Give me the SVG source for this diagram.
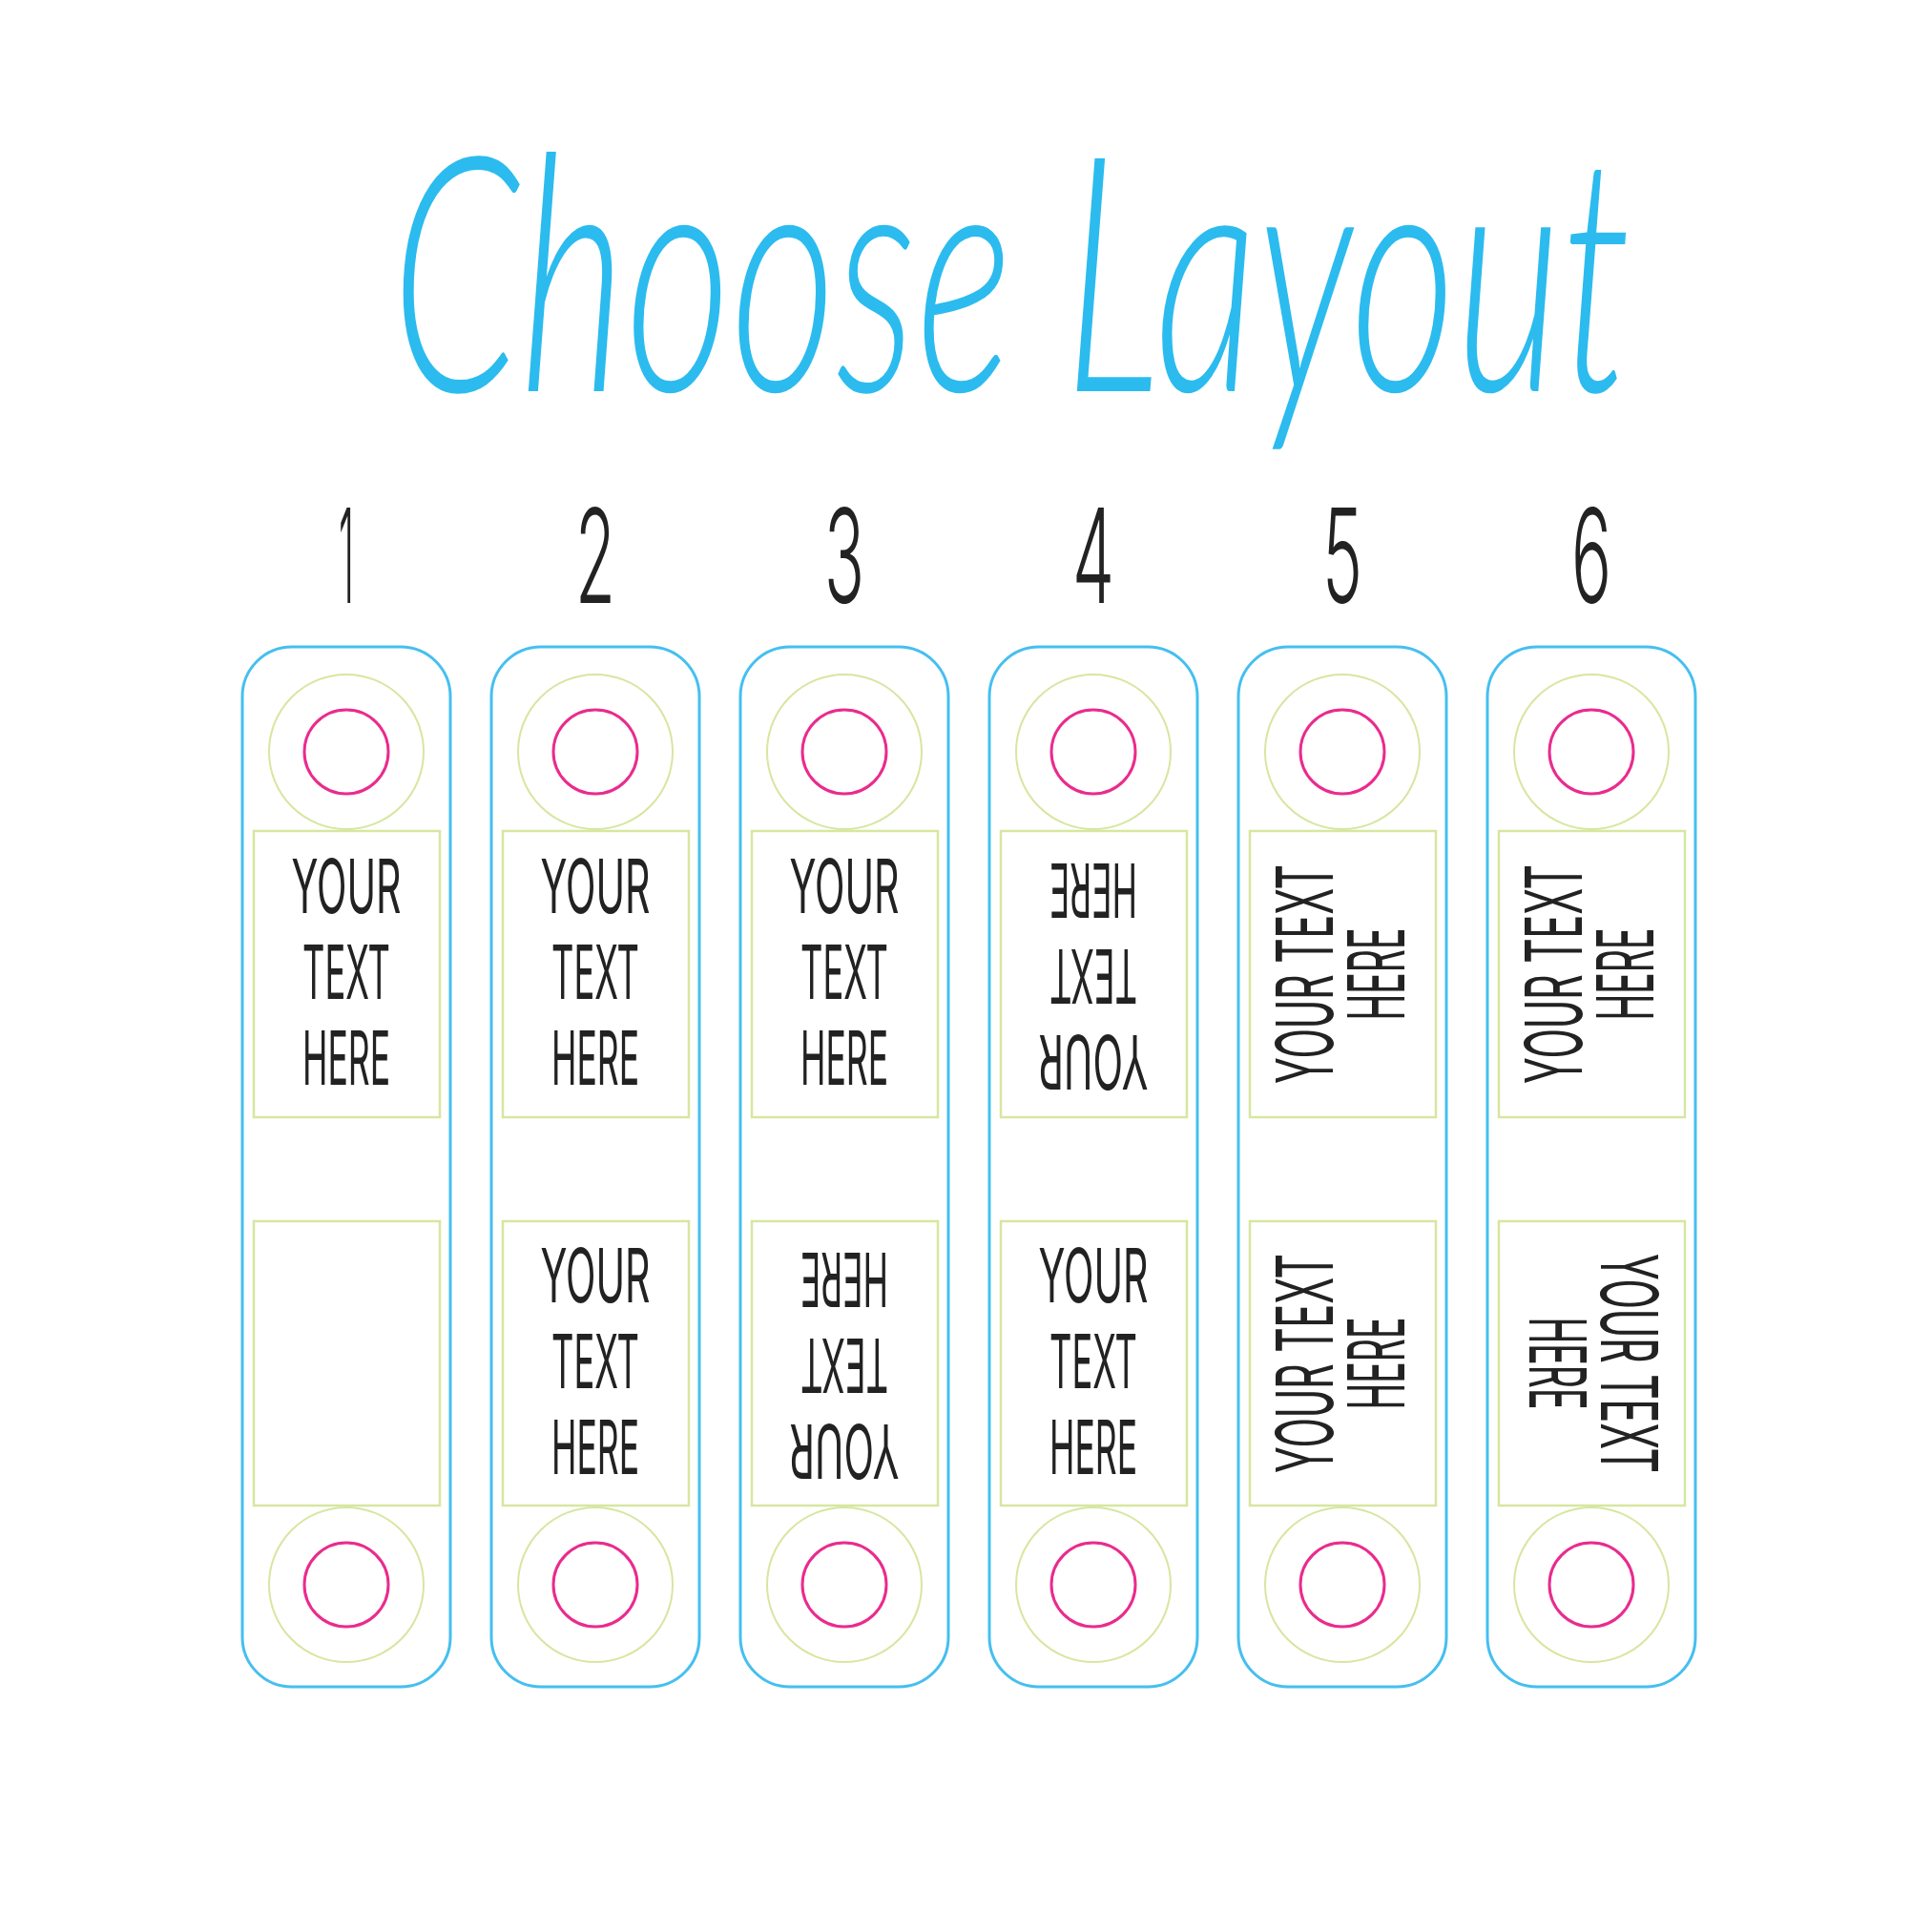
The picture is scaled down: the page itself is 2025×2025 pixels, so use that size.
<svg xmlns="http://www.w3.org/2000/svg" xmlns:xlink="http://www.w3.org/1999/xlink" width="2025" height="2025" viewBox="0 0 2025 2025">
<style>
.card{fill:#fff;stroke:#45bff0;stroke-width:3}
.ring{fill:none;stroke:#d7e6a0;stroke-width:2}
.hole{fill:none;stroke:#ea2b8d;stroke-width:3}
.box{fill:#fff;stroke:#d7e6a0;stroke-width:2.5}
.t{font-family:Inter,"Open Sans","Liberation Sans",sans-serif;font-weight:400;font-size:78px;fill:#222;text-anchor:middle}
.tv{font-family:Inter,"Open Sans","Liberation Sans",sans-serif;font-weight:400;font-size:82px;fill:#222;text-anchor:middle}
.num{font-family:Inter,"Open Sans","Liberation Sans",sans-serif;font-weight:300;font-size:137px;fill:#222;text-anchor:middle}
.title{font-family:Lato,"Open Sans","Liberation Sans",sans-serif;font-style:italic;font-weight:300;font-size:230px;fill:#2cbbee}
</style>
<defs>
<g id="txtH">
<text class="t" x="0" y="-64" textLength="115" lengthAdjust="spacingAndGlyphs">YOUR</text>
<text class="t" x="0" y="26" textLength="92" lengthAdjust="spacingAndGlyphs">TEXT</text>
<text class="t" x="0" y="116" textLength="92" lengthAdjust="spacingAndGlyphs">HERE</text>
</g>
<g id="txtV">
<text class="tv" x="0" y="-10" textLength="230" lengthAdjust="spacingAndGlyphs">YOUR TEXT</text>
<text class="tv" x="0" y="65" textLength="97" lengthAdjust="spacingAndGlyphs">HERE</text>
</g>
<g id="tag">
<rect class="card" x="0" y="0" width="218" height="1090" rx="52" ry="52"/>
<circle class="ring" cx="109" cy="110" r="81"/>
<circle class="hole" cx="109" cy="110" r="44"/>
<circle class="ring" cx="109" cy="983" r="81"/>
<circle class="hole" cx="109" cy="983" r="44"/>
<rect class="box" x="12" y="193" width="195" height="300"/>
<rect class="box" x="12" y="602" width="195" height="298"/>
</g>
</defs>
<rect x="0" y="0" width="2025" height="2025" fill="#fff"/>
<text id="title" class="title" x="0" y="0" transform="translate(410,410) scale(1,1.5)" textLength="1300" lengthAdjust="spacingAndGlyphs">Choose Layout</text>
<g id="numbers">
<text class="num" x="363" y="632" textLength="16" lengthAdjust="spacingAndGlyphs">1</text>
<text class="num" x="624" y="632" textLength="42" lengthAdjust="spacingAndGlyphs">2</text>
<text class="num" x="885" y="632" textLength="42" lengthAdjust="spacingAndGlyphs">3</text>
<text class="num" x="1146" y="632" textLength="44" lengthAdjust="spacingAndGlyphs">4</text>
<text class="num" x="1407" y="632" textLength="42" lengthAdjust="spacingAndGlyphs">5</text>
<text class="num" x="1668" y="632" textLength="42" lengthAdjust="spacingAndGlyphs">6</text>
</g>
<g id="connectors"/>
<g id="layout1">
<use href="#tag" x="254" y="678"/>
<use href="#txtH" transform="translate(363,1021)"/>
</g>
<g id="layout2">
<use href="#tag" x="515" y="678"/>
<use href="#txtH" transform="translate(624,1021)"/>
<use href="#txtH" transform="translate(624,1429)"/>
</g>
<g id="layout3">
<use href="#tag" x="776" y="678"/>
<use href="#txtH" transform="translate(885,1021)"/>
<use href="#txtH" transform="translate(885,1429) rotate(180)"/>
</g>
<g id="layout4">
<use href="#tag" x="1037" y="678"/>
<use href="#txtH" transform="translate(1146,1021) rotate(180)"/>
<use href="#txtH" transform="translate(1146,1429)"/>
</g>
<g id="layout5">
<use href="#tag" x="1298" y="678"/>
<use href="#txtV" transform="translate(1407,1021) rotate(-90)"/>
<use href="#txtV" transform="translate(1407,1429) rotate(-90)"/>
</g>
<g id="layout6">
<use href="#tag" x="1559" y="678"/>
<use href="#txtV" transform="translate(1668,1021) rotate(-90)"/>
<use href="#txtV" transform="translate(1668,1429) rotate(90)"/>
</g>
</svg>
